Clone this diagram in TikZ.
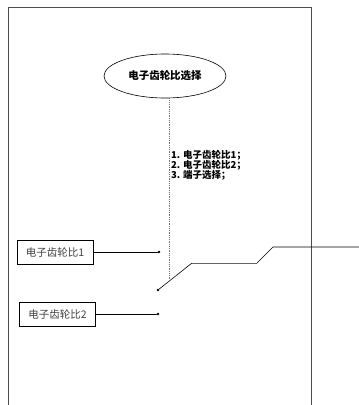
\documentclass[tikz,border=0pt]{standalone}
\usepackage{fontspec}
\setmainfont{Noto Sans CJK SC}
\newfontfamily\cjkbold{Noto Sans CJK SC Black}
\usetikzlibrary{shapes.geometric}

\begin{document}
\begin{tikzpicture}[x=1pt,y=-1pt]
\tikzset{
  ratiobox/.style={rectangle,draw=black,line width=0.6pt,minimum width=76pt,minimum height=24pt,inner sep=1pt,font=\fontsize{10.5}{12}\selectfont,text=black!75},
  selnode/.style={ellipse,draw=black,line width=0.6pt,minimum width=122pt,minimum height=44pt,inner sep=1pt,font=\cjkbold\fontsize{10.5}{12}\selectfont},
  wire/.style={draw=black,line width=0.6pt,line cap=round,line join=round},
  dotline/.style={draw=black!55,line width=0.8pt,densely dotted},
  contact/.style={circle,fill=black,inner sep=0pt,minimum size=2.6pt}
}
\useasboundingbox (0,0) rectangle (359,405);
% outer frame, open at the bottom
\draw[line width=1pt,draw=black!70] (8,405) -- (8,7) -- (311,7) -- (311,405);
\node[selnode] (n_sel) at (165,76) {电子齿轮比选择};
\node[ratiobox] (n_r1) at (55,252) {电子齿轮比1};
\node[ratiobox] (n_r2) at (57.5,314) {电子齿轮比2};
\node[contact] (n_c1) at (159,252) {};
\node[contact] (n_c2) at (158,314) {};
\node[contact] (n_pv) at (158,290) {};
\coordinate (n_k1) at (192,263);
\coordinate (n_k2) at (257,263);
\coordinate (n_k3) at (273,247);
\coordinate (n_out) at (359,247);
\coordinate (n_tap) at (169.5,281.5);
\node[anchor=north west,align=left,inner sep=0pt,font=\cjkbold\fontsize{9.5}{10}\selectfont] (n_list) at (171,150) {1. 电子齿轮比1；\\2. 电子齿轮比2；\\3. 端子选择；};
\draw[wire] (n_r1) -- (n_c1);
\draw[wire] (n_r2) -- (n_c2);
\draw[wire] (n_pv) -- (n_k1);
\draw[wire,draw=black!60] (n_k1) -- (n_k2);
\draw[wire] (n_k2) -- (n_k3) -- (n_out);
\draw[dotline] (n_sel.south -| n_tap) -- (n_tap);
\end{tikzpicture}
\end{document}
